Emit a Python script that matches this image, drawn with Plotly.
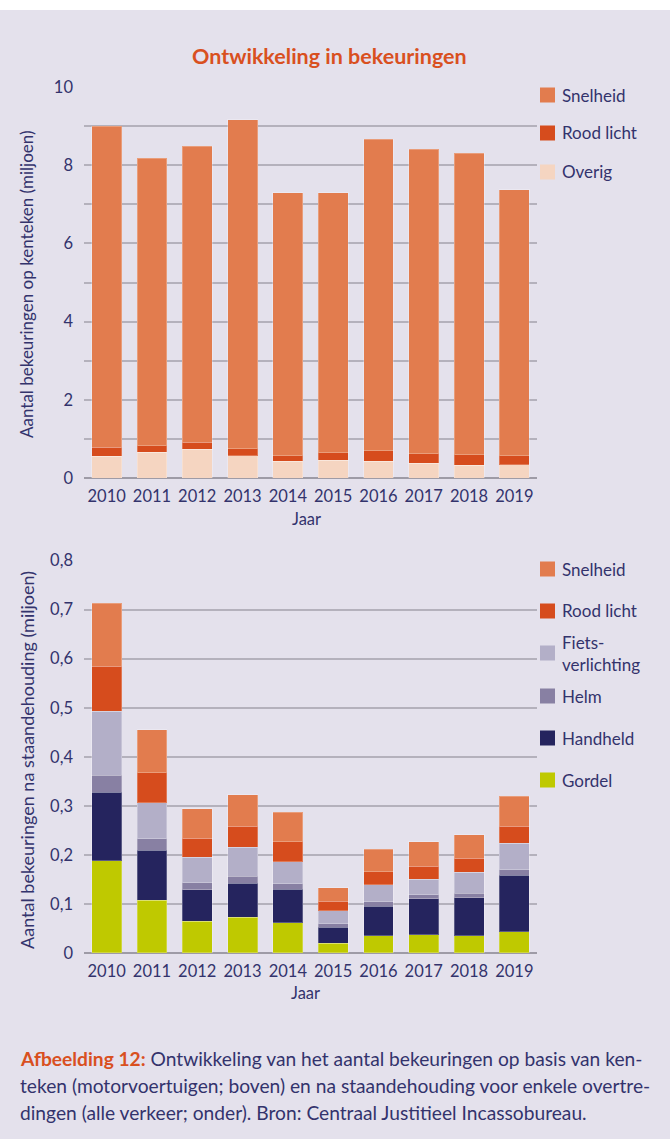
import plotly.graph_objects as go

# ---------------- data ----------------
years = ["2010", "2011", "2012", "2013", "2014", "2015", "2016", "2017", "2018", "2019"]

# top chart: bekeuringen op kenteken (miljoen)
top_overig = [0.56, 0.66, 0.73, 0.57, 0.43, 0.46, 0.43, 0.38, 0.32, 0.34]
top_rood_licht = [0.23, 0.16, 0.19, 0.18, 0.14, 0.19, 0.27, 0.24, 0.28, 0.23]
top_snelheid = [8.21, 7.36, 7.57, 8.41, 6.72, 6.64, 7.97, 7.79, 7.71, 6.80]

# bottom chart: bekeuringen na staandehouding (miljoen)
bot_gordel = [0.188, 0.108, 0.065, 0.073, 0.062, 0.020, 0.035, 0.037, 0.035, 0.043]
bot_handheld = [0.140, 0.101, 0.064, 0.069, 0.068, 0.032, 0.060, 0.074, 0.078, 0.115]
bot_helm = [0.034, 0.024, 0.014, 0.014, 0.011, 0.008, 0.009, 0.008, 0.009, 0.012]
bot_fiets = [0.131, 0.073, 0.052, 0.060, 0.045, 0.026, 0.035, 0.031, 0.043, 0.054]
bot_rood_licht = [0.092, 0.061, 0.039, 0.042, 0.041, 0.019, 0.027, 0.027, 0.028, 0.034]
bot_snelheid = [0.128, 0.088, 0.060, 0.065, 0.060, 0.028, 0.045, 0.050, 0.048, 0.062]

top_ticks = [0, 2, 4, 6, 8, 10]
top_ticktext = ["0", "2", "4", "6", "8", "10"]
bot_ticks = [0, 0.1, 0.2, 0.3, 0.4, 0.5, 0.6, 0.7, 0.8]
bot_ticktext = ["0", "0,1", "0,2", "0,3", "0,4", "0,5", "0,6", "0,7", "0,8"]

# ---------------- style ----------------
W, H = 670, 1139
BG = "#e4e1ec"
NAVY = "#33336c"
ORANGE_T = "#d9501f"
GRID = "#b4b1bc"
FONT = "Lato"

C_SNEL = "#e27c4e"
C_ROOD = "#d64c1d"
C_OVERIG = "#f5d5c1"
C_FIETS = "#b3afc8"
C_HELM = "#8880a3"
C_HAND = "#25245e"
C_GORDEL = "#bfc900"


def px(x):
    return x / W


def py(y):
    return 1 - y / H


fig = go.Figure()

line = dict(color="rgba(255,255,255,0.25)", width=1)

for name, vals, col in [("Overig", top_overig, C_OVERIG),
                        ("Rood licht", top_rood_licht, C_ROOD),
                        ("Snelheid", top_snelheid, C_SNEL)]:
    fig.add_trace(go.Bar(x=years, y=vals, name=name, marker=dict(color=col, line=line),
                         xaxis="x", yaxis="y", showlegend=False))

for name, vals, col in [("Gordel", bot_gordel, C_GORDEL),
                        ("Handheld", bot_handheld, C_HAND),
                        ("Helm", bot_helm, C_HELM),
                        ("Fietsverlichting", bot_fiets, C_FIETS),
                        ("Rood licht", bot_rood_licht, C_ROOD),
                        ("Snelheid", bot_snelheid, C_SNEL)]:
    fig.add_trace(go.Bar(x=years, y=vals, name=name, marker=dict(color=col, line=line),
                         xaxis="x2", yaxis="y2", showlegend=False))

xdom = [px(84), px(537)]
axis_font = dict(family=FONT, size=16.5, color=NAVY)

xcommon = dict(domain=xdom, showgrid=False, showline=False, zeroline=False, automargin=False,
               tickfont=axis_font, ticks="", ticklabelstandoff=6)

fig.update_layout(
    width=W, height=H,
    margin=dict(l=0, r=0, t=0, b=0, pad=0, autoexpand=False),
    paper_bgcolor=BG, plot_bgcolor=BG,
    barmode="stack", bargap=0.34,
    font=dict(family=FONT, color=NAVY),
    xaxis=dict(**xcommon, anchor="y"),
    yaxis=dict(domain=[py(478), py(87)], range=[0, 10], tickvals=top_ticks, ticktext=top_ticktext,
               showgrid=True, gridcolor=GRID, gridwidth=1.5, automargin=False,
               minor=dict(dtick=1, showgrid=True, gridcolor=GRID, gridwidth=1.5),
               zeroline=True, zerolinecolor="#9e9ba6", zerolinewidth=2,
               tickfont=axis_font, ticklabelstandoff=10, anchor="x"),
    xaxis2=dict(**xcommon, anchor="y2"),
    yaxis2=dict(domain=[py(953), py(560.6)], range=[0, 0.8], tickvals=bot_ticks, ticktext=bot_ticktext,
                showgrid=True, gridcolor=GRID, gridwidth=1.5, automargin=False,
                zeroline=True, zerolinecolor="#9e9ba6", zerolinewidth=2,
                tickfont=axis_font, ticklabelstandoff=10, anchor="x2"),
)

# white strip at the very top of the page
shapes = [dict(type="rect", xref="paper", yref="paper", x0=0, x1=1, y0=py(10), y1=1,
               fillcolor="white", line=dict(width=0), layer="below")]
annotations = []


def ann(text, x, y, size=16, color=NAVY, xanchor="center", yanchor="middle", **kw):
    annotations.append(dict(text=text, x=px(x), y=py(y), xref="paper", yref="paper",
                            xanchor=xanchor, yanchor=yanchor, showarrow=False,
                            font=dict(family=FONT, size=size, color=color), **kw))


# title
ann("<b>Ontwikkeling in bekeuringen</b>", 329, 56, size=21.5, color=ORANGE_T)

# axis titles
ann("Aantal bekeuringen op kenteken (miljoen)", 27, 284, size=17, textangle=-90)
ann("Aantal bekeuringen na staandehouding (miljoen)", 27, 760, size=18, textangle=-90)
ann("Jaar", 306, 519, size=16.5)
ann("Jaar", 305, 993, size=16.5)

# legends
top_leg = [("Snelheid", C_SNEL, 95), ("Rood licht", C_ROOD, 133), ("Overig", C_OVERIG, 172)]
bot_leg = [("Snelheid", C_SNEL, 569), ("Rood licht", C_ROOD, 611),
           ("Fiets-<br>verlichting", C_FIETS, 653), ("Helm", C_HELM, 696),
           ("Handheld", C_HAND, 738), ("Gordel", C_GORDEL, 780)]
for label, col, yc in top_leg + bot_leg:
    shapes.append(dict(type="rect", xref="paper", yref="paper",
                       x0=px(540), x1=px(555), y0=py(yc + 7.5), y1=py(yc - 7.5),
                       fillcolor=col, line=dict(width=0)))
    ann(label, 560, yc, size=17, xanchor="left", align="left")

# caption
cap_lines = [
    "<b><span style='color:%s'>Afbeelding 12:</span></b> Ontwikkeling van het aantal bekeuringen op basis van ken-" % ORANGE_T,
    "teken (motorvoertuigen; boven) en na staandehouding voor enkele overtre-",
    "dingen (alle verkeer; onder). Bron: Centraal Justitieel Incassobureau.",
]
for i, ln in enumerate(cap_lines):
    ann(ln, 18, 1058 + 27 * i, size=19.2, xanchor="left", align="left")

fig.update_layout(shapes=shapes, annotations=annotations)

post = ("document.body.style.margin='0';document.body.style.overflow='hidden';"
        "var gd=document.getElementById('{plot_id}');gd.style.position='absolute';"
        "gd.style.top='0px';gd.style.left='0px';")
fig.write_html("out.html", config={"displayModeBar": False}, post_script=post)
